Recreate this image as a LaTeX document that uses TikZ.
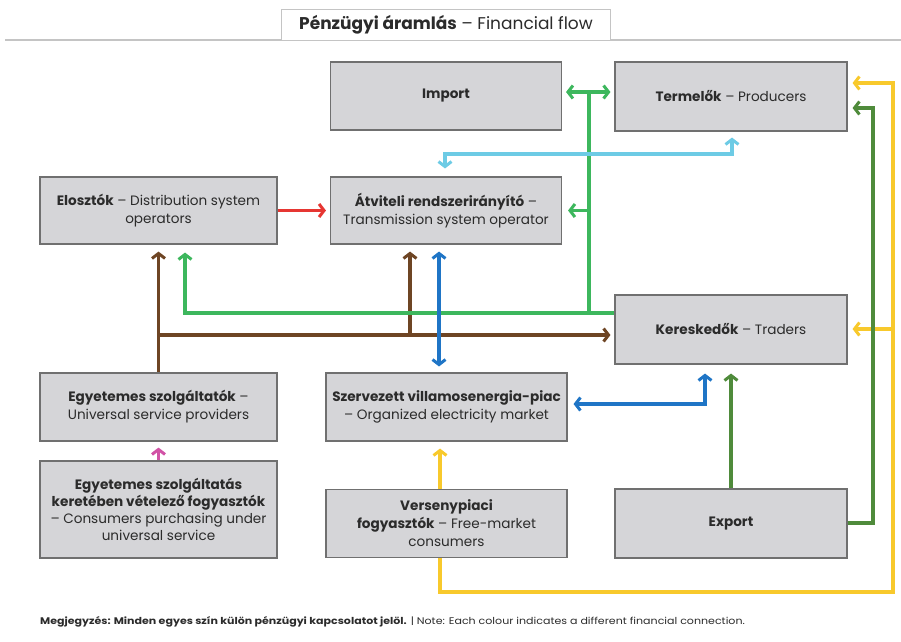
\documentclass[tikz,border=0pt]{standalone}
\usepackage{fontspec}
\usepackage{graphicx}
\setmainfont{Poppins}
\usetikzlibrary{arrows.meta}
\definecolor{boxfill}{HTML}{D5D5D8}
\definecolor{boxline}{HTML}{707070}
\definecolor{txt}{HTML}{2B2B2B}
\definecolor{cgr}{HTML}{3DB75D}
\definecolor{clb}{HTML}{6DCBE5}
\definecolor{crd}{HTML}{E63632}
\definecolor{cbr}{HTML}{6E4524}
\definecolor{cbl}{HTML}{1F75C6}
\definecolor{cdg}{HTML}{4F8B3B}
\definecolor{cye}{HTML}{F8C92C}
\definecolor{cpk}{HTML}{D152A6}
\definecolor{lgray}{HTML}{C4C4C4}
\begin{document}
\begin{tikzpicture}[x=1pt,y=-1pt,
  box/.style={draw=boxline, fill=boxfill, line width=1.1pt, rectangle, align=center,
    text=txt, font=\fontsize{13.6}{18}\selectfont, inner sep=0pt},
  conn/.style={line width=3.4pt, line join=miter,
    >={Straight Barb[length=5pt,width=13pt,line width=3pt]}},
]
\useasboundingbox (0,0) rectangle (901,641);
% title
\draw[lgray, line width=1.4pt] (5,40) -- (901,40);
\node[draw=lgray, fill=white, line width=1.1pt, minimum width=329pt, minimum height=31pt,
  inner sep=0pt, text=txt, font=\fontsize{17}{20}\selectfont] (title) at (446,25)
  {\textbf{Pénzügyi áramlás} – Financial flow};
% boxes
\node[box, minimum width=231pt, minimum height=68pt] (imp) at (446,96) {\textbf{Import}};
\node[box, minimum width=232pt, minimum height=69pt] (ter) at (731,96.5) {\textbf{Termelők} – Producers};
\node[box, minimum width=237pt, minimum height=67pt] (elo) at (158.5,210.5) {\textbf{Elosztók} – Distribution system\\operators};
\node[box, minimum width=231pt, minimum height=67pt] (atv) at (446,210.5) {\textbf{Átviteli rendszerirányító} –\\Transmission system operator};
\node[box, minimum width=232pt, minimum height=69pt] (ker) at (731,329.5) {\textbf{Kereskedők} – Traders};
\node[box, minimum width=237pt, minimum height=68pt] (esz) at (158.5,407) {\textbf{Egyetemes szolgáltatók} –\\Universal service providers};
\node[box, minimum width=241pt, minimum height=68pt] (szp) at (446.5,407) {\textbf{Szervezett villamosenergia-piac}\\– Organized electricity market};
\node[box, minimum width=237pt, minimum height=97pt, font=\fontsize{13.6}{17}\selectfont] (efo) at (158.5,509.5) {\textbf{Egyetemes szolgáltatás}\\\textbf{keretében vételező fogyasztók}\\– Consumers purchasing under\\universal service};
\node[box, minimum width=241pt, minimum height=68pt] (vfo) at (446.5,523.5) {\textbf{Versenypiaci}\\\textbf{fogyasztók} – Free-market\\consumers};
\node[box, minimum width=232pt, minimum height=69pt] (exp) at (731,523.5) {\textbf{Export}};
% coordinates
\coordinate (g1) at (589,92);
\coordinate (g2) at (589,313);
\coordinate (g3) at (185,313);
\coordinate (b1) at (158,335);
\coordinate (b2) at (410,335);
\coordinate (lb1) at (445,154);
\coordinate (lb2) at (732,154);
\coordinate (bx) at (439,300);
\coordinate (bl1) at (705,404);
\coordinate (d2) at (873,523);
\coordinate (d3) at (873,108);
\coordinate (yx) at (440,500);
\coordinate (y1) at (440,592);
\coordinate (y2) at (893,592);
\coordinate (y3) at (893,83);
\coordinate (y4) at (893,329);
% brown
\draw[conn, cbr, ->, shorten >=7pt] (esz.north) -- (elo.south);
\draw[conn, cbr, ->, shorten >=4pt] (b1) -- (b1 -| ker.west);
\draw[conn, cbr, ->, shorten >=7pt] (b2) -- (b2 |- atv.south);
% green
\draw[conn, cgr, <->, shorten <=4pt, shorten >=4pt] (imp.east |- g1) -- (ter.west |- g1);
\draw[conn, cgr] (g1) -- (g2);
\draw[conn, cgr, ->, shorten >=6pt] (g1 |- atv.east) -- (atv.east);
\draw[conn, cgr, ->, shorten >=8pt] (ker.west |- g2) -- (g3) -- (g3 |- elo.south);
% light blue
\draw[conn, clb, <->, shorten <=8pt, shorten >=6pt] (lb1 |- atv.north) -- (lb1) -- (lb2) -- (lb2 |- ter.south);
% blue
\draw[conn, cbl, <->, shorten <=7pt, shorten >=6pt] (bx |- atv.south) -- (bx |- szp.north);
\draw[conn, cbl, <->, shorten <=6pt, shorten >=9pt] (bl1 -| szp.east) -- (bl1) -- (bl1 |- ker.south);
% red
\draw[conn, crd, ->, shorten >=4pt] (elo.east) -- (atv.west);
% yellow
\draw[conn, cye, ->, shorten >=7pt] (yx |- vfo.north) -- (yx |- szp.south);
\draw[conn, cye, ->, shorten >=5pt] (yx |- vfo.south) -- (y1) -- (y2) -- (y3) -- (y3 -| ter.east);
\draw[conn, cye, ->, shorten >=5pt] (y4) -- (y4 -| ker.east);
% dark green
\draw[conn, cdg, ->, shorten >=9pt] (exp.north) -- (ker.south);
\draw[conn, cdg, ->, shorten >=5pt] (exp.east |- d2) -- (d2) -- (d3) -- (d3 -| ter.east);
% pink
\draw[conn, cpk, ->, shorten >=6pt] (efo.north) -- (esz.south);
% note
\node[anchor=west, text=txt, font=\fontsize{9.6}{11}\selectfont, inner sep=0pt] (note) at (40,622)
  {\scalebox{1.15}[1]{\textbf{Megjegyzés: Minden egyes szín külön pénzügyi kapcsolatot jelöl.} | Note: Each colour indicates a different financial connection.}};
\end{tikzpicture}
\end{document}
